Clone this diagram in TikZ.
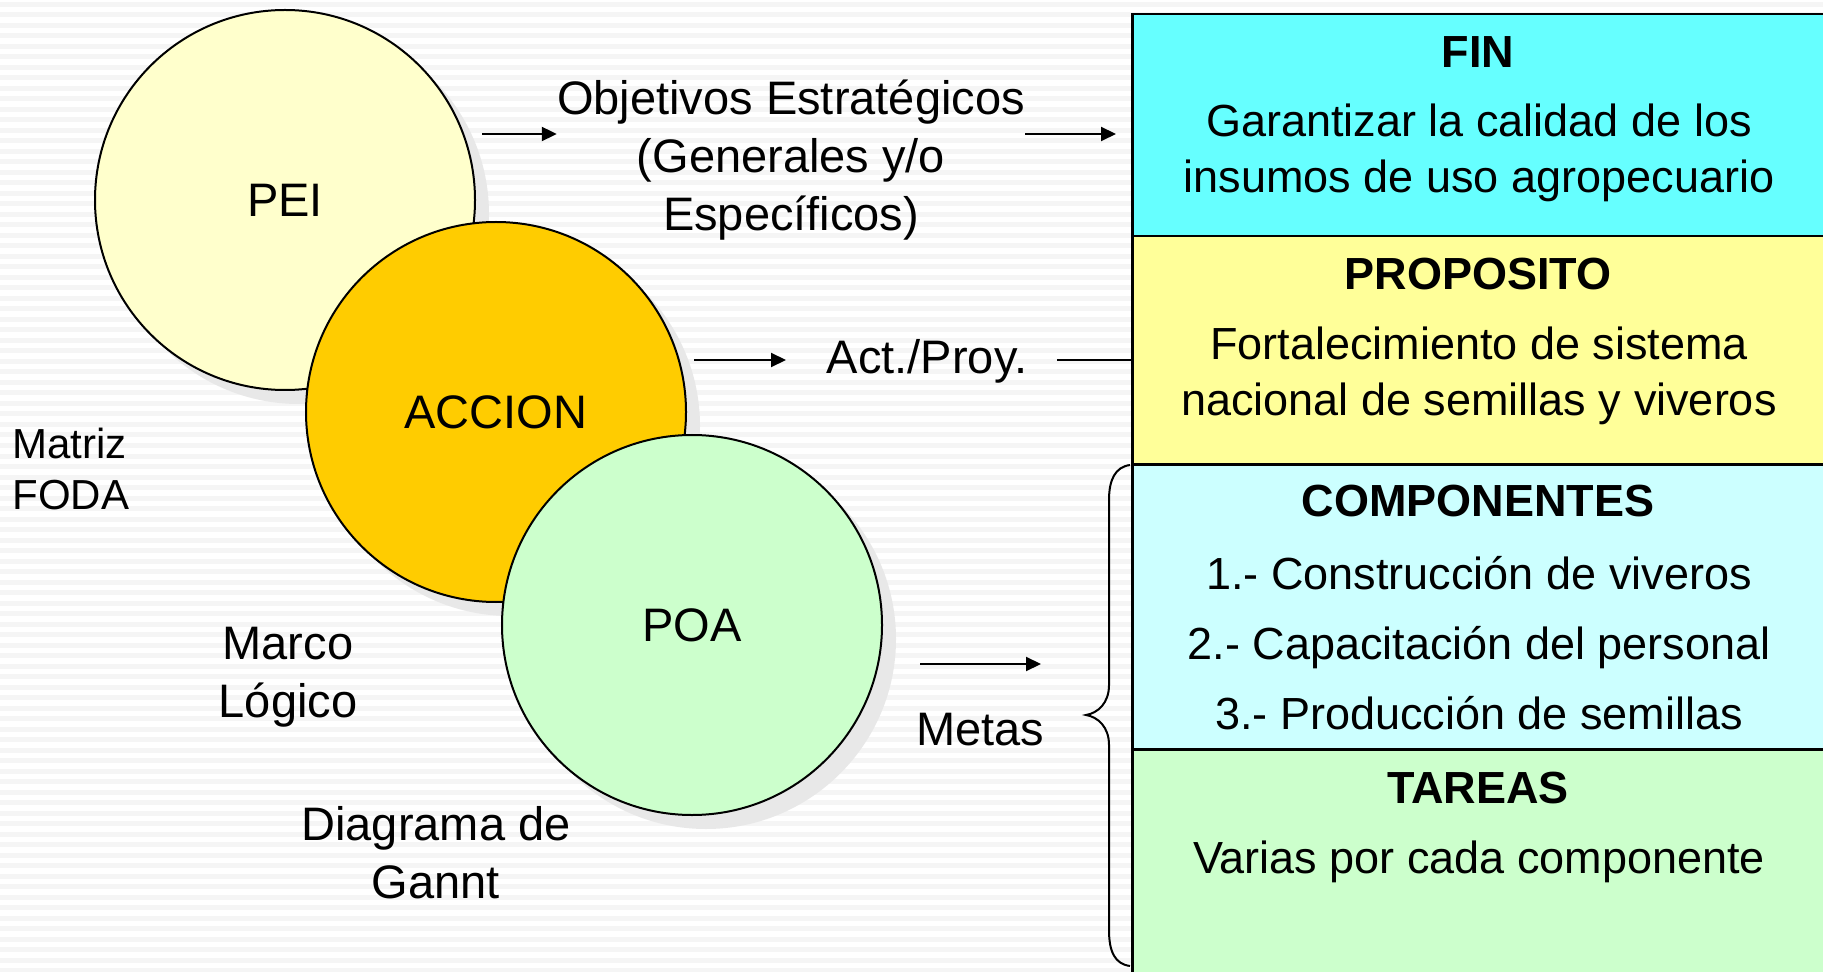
\documentclass[tikz,border=0pt]{standalone}
\usepackage{fontspec}
\setmainfont{Liberation Sans}
\usetikzlibrary{positioning,shadows,arrows.meta}

\definecolor{amarilloclaro}{HTML}{FFFFCC}
\definecolor{naranja}{HTML}{FFCC00}
\definecolor{verdeclaro}{HTML}{CCFFCC}
\definecolor{celeste}{HTML}{66FFFF}
\definecolor{celesteclaro}{HTML}{CCFFFF}
\definecolor{amarillo}{HTML}{FFFF99}

\tikzset{
  circulo/.style={circle, draw, line width=1pt, minimum size=190pt, inner sep=0pt,
    font=\fontsize{23.5}{29}\selectfont,
    drop shadow={shadow xshift=7pt, shadow yshift=-7pt, fill=black!9, opacity=1}},
  texto/.style={align=center, inner sep=0pt, font=\fontsize{23.5}{29}\selectfont},
  chico/.style={align=left, inner sep=0pt, font=\fontsize{21}{25.5}\selectfont},
  caja/.style={draw, line width=1.25pt, minimum width=360pt, anchor=north west},
  titulo/.style={inner sep=0pt, font=\fontsize{22.5}{27}\selectfont\bfseries},
  cuerpo/.style={align=center, inner sep=0pt, font=\fontsize{22.5}{28}\selectfont},
  flecha/.style={line width=1pt, -{Triangle[length=7.5pt,width=7pt]}},
  linea/.style={line width=1pt}
}

\begin{document}
\begin{tikzpicture}[x=0.5pt, y=-0.5pt]
                \clip (0,0) rectangle (1823,972);
                \fill[white] (0,0) rectangle (1823,972);
                %Fondo rayado
                \foreach \y in {2,12.5,...,972}
                    \fill[black!4] (0,\y) rectangle (1823,\y+5);

                %Circulos
                \node[circulo, fill=amarilloclaro] at (285,200) (PEI) {PEI};
                \node[circulo, fill=naranja] at (496,412) (ACCION) {ACCION};
                \node[circulo, fill=verdeclaro] at (692,625) (POA) {POA};

                %Matriz
                \node[caja, fill=celeste, minimum height=111pt] at (1131,13) (fin) {};
                \node[caja, fill=amarillo, minimum height=114pt] at (1131,235) (proposito) {};
                \node[caja, fill=celesteclaro, minimum height=143pt] at (1131,463) (componentes) {};
                \node[caja, fill=verdeclaro, minimum height=140pt] at (1131,748) (tareas) {};

                \node[titulo] at (1478,52) (tfin) {FIN};
                \node[cuerpo] at (1479,153) (cfin) {Garantizar la calidad de los\\insumos de uso agropecuario};
                \node[titulo] at (1478,274) (tproposito) {PROPOSITO};
                \node[cuerpo] at (1479,376) (cproposito) {Fortalecimiento de sistema\\nacional de semillas y viveros};
                \node[titulo] at (1478,501) (tcomponentes) {COMPONENTES};
                \node[cuerpo] at (1479,573) (comp1) {1.- Construcción de viveros};
                \node[cuerpo] at (1479,648) (comp2) {2.- Capacitación del personal};
                \node[cuerpo] at (1479,713) (comp3) {3.- Producción de semillas};
                \node[titulo] at (1478,788) (ttareas) {TAREAS};
                \node[cuerpo] at (1479,862) (ctareas) {Varias por cada componente};

                %Etiquetas
                \node[texto] at (791,160) (obj) {Objetivos Estratégicos\\(Generales y/o\\Específicos)};
                \node[texto] at (927,361) (act) {Act./Proy.};
                \node[texto] at (980,730) (metas) {Metas};
                \node[chico, anchor=west] at (12,469) (foda) {Matriz\\FODA};
                \node[texto] at (288,677) (marco) {Marco\\Lógico};
                \node[texto] at (436,853) (gantt) {Diagrama de\\Gannt};

                %Flechas
                \coordinate (a1) at (482,134);
                \coordinate (a2) at (1116,134);
                \coordinate (a3) at (694,360);
                \coordinate (a4) at (786,360);
                \coordinate (a5) at (1057,360);
                \coordinate (a6) at (920,664);
                \coordinate (a7) at (1041,664);
                \draw[flecha] (a1) -- (obj.west |- a1);
                \draw[flecha] (obj.east |- a1) -- (a2);
                \draw[flecha] (a3) -- (a4);
                \draw[linea] (a5) -- (a5 -| proposito.west);
                \draw[flecha] (a6) -- (a7);

                %Llave
                \draw[linea] (1130,465) .. controls (1115,467) and (1109,480) .. (1109,500)
                    -- (1109,685) .. controls (1109,703) and (1098,713) .. (1086,715)
                    .. controls (1098,717) and (1109,727) .. (1109,745)
                    -- (1109,930) .. controls (1109,952) and (1115,964) .. (1130,966);
\end{tikzpicture}
\end{document}
